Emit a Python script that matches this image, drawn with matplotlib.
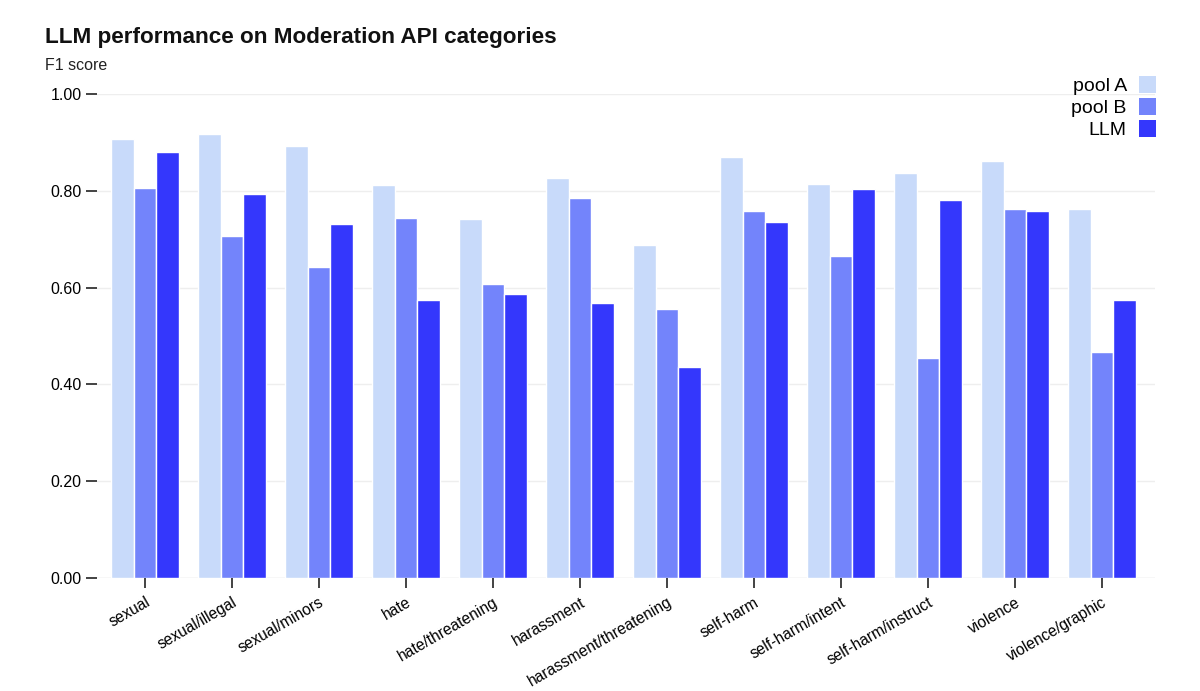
import numpy as np
import matplotlib.pyplot as plt
from matplotlib.patches import Patch

plt.rcParams["font.family"] = ["Liberation Sans", "DejaVu Sans"]

categories = ["sexual", "sexual/illegal", "sexual/minors", "hate", "hate/threatening",
              "harassment", "harassment/threatening", "self-harm", "self-harm/intent",
              "self-harm/instruct", "violence", "violence/graphic"]
pool_a = [0.906, 0.918, 0.892, 0.812, 0.741, 0.827, 0.689, 0.870, 0.815, 0.836, 0.862, 0.762]
pool_b = [0.806, 0.707, 0.643, 0.744, 0.608, 0.786, 0.555, 0.758, 0.666, 0.455, 0.762, 0.467]
llm = [0.881, 0.793, 0.731, 0.574, 0.586, 0.569, 0.436, 0.736, 0.803, 0.780, 0.758, 0.574]
series_names = ["pool A", "pool B", "LLM"]
colors = ["#c8dafa", "#7384fb", "#3437fc"]

fig = plt.figure(figsize=(12, 6.91), dpi=100)
ax = fig.add_axes([97 / 1200, 1 - 578 / 691, 1058 / 1200, 484 / 691])

x = np.arange(len(categories))
w = 0.26
for i, (vals, c) in enumerate(zip([pool_a, pool_b, llm], colors)):
    ax.bar(x + (i - 1) * w, vals, width=w, color=c, edgecolor="white", linewidth=1)

ax.set_xlim(-0.552, 11.61)
ax.set_ylim(0, 1.0)
yt = [0, 0.2, 0.4, 0.6, 0.8, 1.0]
ax.set_yticks(yt)
ax.set_yticklabels([f"{v:.2f}" for v in yt], fontsize=11.5)
ax.set_xticks(x)
ax.set_xticklabels(categories, rotation=30, ha="right", rotation_mode="anchor", fontsize=11.2)
ax.tick_params(axis="y", length=8, width=1.2, color="#222222", pad=3)
ax.tick_params(axis="x", length=7, width=1.2, color="#222222", pad=5)
for s in ax.spines.values():
    s.set_visible(False)
ax.grid(axis="y", color="#eeeeee", linewidth=1)
ax.set_axisbelow(True)
ax.axhline(0, color="#e6e6e6", linewidth=1, zorder=0)

fig.text(45 / 1200, 1 - 38 / 691, "LLM performance on Moderation API categories",
         fontsize=16.2, fontweight="bold", va="center", ha="left", color="#111111")
fig.text(45 / 1200, 1 - 66 / 691, "F1 score", fontsize=11.5, va="center", ha="left", color="#222222")

handles = [Patch(facecolor=c, edgecolor="none") for c in colors]
fig.legend(handles, series_names, loc="upper right", bbox_to_anchor=(1156 / 1200, 1 - 76 / 691),
           frameon=False, markerfirst=False, fontsize=14, handlelength=0.9, handleheight=0.95,
           handletextpad=0.6, labelspacing=0.15, borderpad=0, borderaxespad=0)
for t in fig.legends[0].get_texts():
    t.set_ha("right")

fig.savefig("out.png", dpi=100, facecolor="white")
